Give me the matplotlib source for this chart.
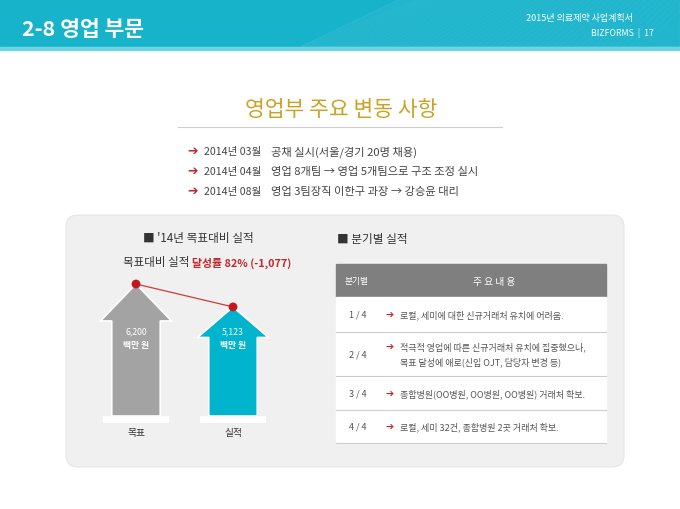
import numpy as np
import matplotlib
matplotlib.use("Agg")
import matplotlib.pyplot as plt
from matplotlib.patches import Rectangle, FancyBboxPatch, Polygon

plt.rcParams['font.family'] = ['Noto Sans CJK KR', 'DejaVu Sans']

# ---- data ----
page_title = "2-8 영업 부문"
doc_title = "2015년 의료제약 사업계획서"
doc_page = "BIZFORMS  |  17"
section_title = "영업부 주요 변동 사항"

change_dates = ["2014년 03월", "2014년 04월", "2014년 08월"]
change_texts = ["공채 실시(서울/경기 20명 채용)",
                "영업 8개팀 → 영업 5개팀으로 구조 조정 실시",
                "영업 3팀장직 이한구 과장 → 강승윤 대리"]

categories = ["목표", "실적"]
values = [6200, 5123]          # 백만 원
unit = "백만 원"
rate_pct = 82
gap = -1077

quarters = ["1 / 4", "2 / 4", "3 / 4", "4 / 4"]
quarter_notes = [["로컬, 세미에 대한 신규거래처 유치에 어려움."],
                 ["적극적 영업에 따른 신규거래처 유치에 집중했으나,",
                  "목표 달성에 애로(신입 OJT, 담당자 변경 등)"],
                 ["종합병원(OO병원, OO병원, OO병원) 거래처 확보."],
                 ["로컬, 세미 32건, 종합병원 2곳 거래처 확보."]]

# ---- colours ----
CYAN = "#16b3cb"
GOLD = "#c9a227"
RED = "#c0282c"
GRAY_ARROW = "#a3a3a3"
TXT = "#444444"

fig = plt.figure(figsize=(6.8, 5.1), dpi=100)
bg = fig.add_axes([0, 0, 1, 1])
bg.set_xlim(0, 680)
bg.set_ylim(510, 0)
bg.axis("off")

# header band
bg.add_patch(Rectangle((0, 0), 680, 48, color=CYAN, zorder=1))
bg.add_patch(Rectangle((0, 48), 680, 3, color="#6fd3e2", zorder=1))
bg.add_patch(Polygon([(300, 48), (400, 0), (680, 0), (680, 48)],
                     closed=True, color="white", alpha=0.05, zorder=2))
for k in range(50):
    xs = np.linspace(300 + k * 7, 680, 20)
    ys = 48 - (xs - xs[0]) * (0.4 + k * 0.012)
    bg.plot(xs, ys, color="white", alpha=0.04, lw=0.6, zorder=2)
bg.text(22, 29, page_title, color="white", fontsize=15.5, fontweight="bold",
        va="center", ha="left", zorder=3)
bg.text(633, 18, doc_title, color="white", fontsize=6.5, ha="right", va="center", zorder=3)
bg.text(654, 33, doc_page, color="white", fontsize=6.3, ha="right", va="center", zorder=3)

# section title
bg.text(341, 110, section_title, color=GOLD, fontsize=15.5, ha="center", va="center")
bg.plot([178, 502], [128, 128], color="#cfcfcf", lw=0.8)
for i, (d, t) in enumerate(zip(change_dates, change_texts)):
    y = 152 + i * 20
    bg.text(193, y, "➔", color=RED, fontsize=9, ha="center", va="center",
            family=['DejaVu Sans'])
    bg.text(204, y, d, color=TXT, fontsize=7.6, ha="left", va="center")
    bg.text(271, y, t, color=TXT, fontsize=8.1, ha="left", va="center")

# gray panel
bg.add_patch(FancyBboxPatch((66, 216), 558, 252,
                            boxstyle="round,pad=0,rounding_size=12",
                            fc="#f0f0f0", ec="#e6e6e6", lw=0.8, zorder=0.5))

# left block headings
bg.text(143, 239, "■ '14년 목표대비 실적", color="#333333", fontsize=8.4,
        ha="left", va="center")
bg.text(192, 263, "목표대비 실적 ", color="#333333", fontsize=8.3, ha="right", va="center")
bg.text(192, 263, f"달성률 {rate_pct}% ({gap:,})", color=RED, fontsize=7.8,
        fontweight="bold", ha="left", va="center")

# arrow chart in data axes
px_per_val = 132 / 6200.0
y0_px, top_px, bot_px = 417, 270, 438
ax = fig.add_axes([90 / 680, 1 - bot_px / 510, 190 / 680, (bot_px - top_px) / 510])
ax.set_ylim(-(bot_px - y0_px) / px_per_val, (y0_px - top_px) / px_per_val)
ax.set_xlim(-(136 - 90) / 97.0, (280 - 136) / 97.0)
ax.axis("off")
ax.patch.set_alpha(0)

arrow_colors = [GRAY_ARROW, "#00b4cd"]
x = np.arange(len(values))
for i, v in enumerate(values):
    ws, wh, hl = 0.25, 0.366, 0.28 * v
    pts = [(i - ws, 0), (i - ws, v - hl), (i - wh, v - hl), (i, v),
           (i + wh, v - hl), (i + ws, v - hl), (i + ws, 0)]
    ax.add_patch(Polygon(pts, closed=True, fc=arrow_colors[i], ec="white",
                         lw=1.2, joinstyle="round", zorder=2))
    ax.add_patch(Rectangle((i - 0.34, -320), 0.68, 320, fc="white", ec="none",
                           alpha=0.95, zorder=1))
    ax.text(i, 3980, f"{v:,}", color="white", fontsize=6.3, ha="center",
            va="center", zorder=3)
    ax.text(i, 3370, unit, color="white", fontsize=6.3, fontweight="bold",
            ha="center", va="center", zorder=3)
    ax.text(i, -750, categories[i], color="#333333", fontsize=7, ha="center",
            va="center")
ax.plot(x, values, color="#d03a3a", lw=0.9, zorder=4)
ax.scatter(x, values, s=40, color="#c8161d", zorder=5, edgecolors="none")

# right block: quarterly table
bg.text(337, 240, "■ 분기별 실적", color="#333333", fontsize=8.4, ha="left", va="center")
tx0, tx1 = 336, 606
bg.add_patch(Rectangle((tx0, 265), tx1 - tx0, 33, color="#7f7f7f", zorder=1))
bg.text(357, 282, "분기별", color="white", fontsize=6.3, ha="center", va="center", zorder=2)
bg.text(494, 282, "주 요 내 용", color="white", fontsize=7, ha="center", va="center", zorder=2)
row_edges = [298, 333, 377, 411, 444]
bg.add_patch(Rectangle((tx0, 298), tx1 - tx0, 444 - 298, color="white", zorder=1))
for i, q in enumerate(quarters):
    top, bot = row_edges[i], row_edges[i + 1]
    yc = (top + bot) / 2
    bg.plot([tx0, tx1], [bot, bot], color="#cccccc", lw=0.8, zorder=2)
    bg.text(358, yc, q, color="#555555", fontsize=6.5, ha="center", va="center", zorder=3)
    lines = quarter_notes[i]
    n = len(lines)
    for j, line in enumerate(lines):
        yy = yc + (j - (n - 1) / 2) * 15
        if j == 0:
            bg.text(390, yy, "➔", color=RED, fontsize=7, ha="center", va="center",
                    family=['DejaVu Sans'], zorder=3)
        bg.text(400, yy, line, color="#555555", fontsize=6.5, ha="left", va="center",
                zorder=3)

fig.savefig("out.png", dpi=100)
